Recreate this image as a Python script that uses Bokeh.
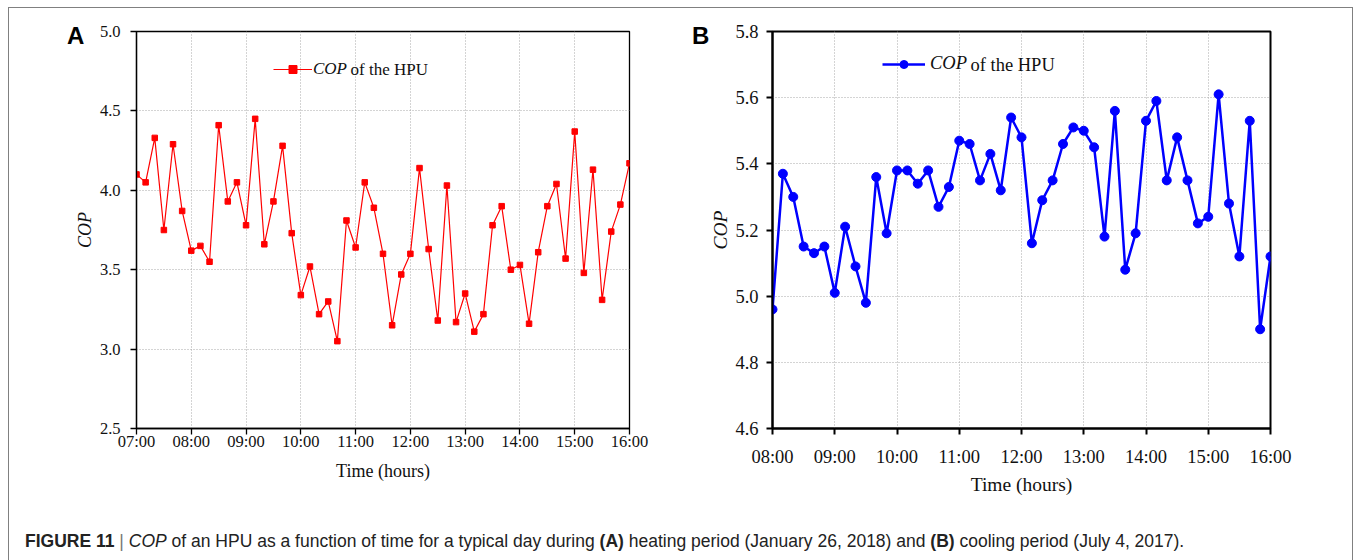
import pandas as pd
from bokeh.plotting import figure
from bokeh.models import (FixedTicker, Legend, LegendItem, Label, Div, Range1d,
                          NumeralTickFormatter)
from bokeh.layouts import row, column
from bokeh.embed import file_html
from bokeh.resources import INLINE

# ---------------- data ----------------
# Panel A: heating period (January 26, 2018), 10-minute samples 07:00-16:00
a_times = pd.date_range("2018-01-26 07:00", "2018-01-26 16:00", freq="10min")
a_cop = [4.10, 4.05, 4.33, 3.75, 4.29, 3.87,
         3.62, 3.65, 3.55, 4.41, 3.93, 4.05,
         3.78, 4.45, 3.66, 3.93, 4.28, 3.73,
         3.34, 3.52, 3.22, 3.30, 3.05, 3.81,
         3.64, 4.05, 3.89, 3.60, 3.15, 3.47,
         3.60, 4.14, 3.63, 3.18, 4.03, 3.17,
         3.35, 3.11, 3.22, 3.78, 3.90, 3.50,
         3.53, 3.16, 3.61, 3.90, 4.04, 3.57,
         4.37, 3.48, 4.13, 3.31, 3.74, 3.91,
         4.17]
a_xtick_labels = ["07:00", "08:00", "09:00", "10:00", "11:00",
                  "12:00", "13:00", "14:00", "15:00", "16:00"]
a_yticks = [2.5, 3.0, 3.5, 4.0, 4.5, 5.0]

# Panel B: cooling period (July 4, 2017), 10-minute samples 08:00-16:00
b_times = pd.date_range("2017-07-04 08:00", "2017-07-04 16:00", freq="10min")
b_cop = [4.96, 5.37, 5.30, 5.15, 5.13, 5.15,
         5.01, 5.21, 5.09, 4.98, 5.36, 5.19,
         5.38, 5.38, 5.34, 5.38, 5.27, 5.33,
         5.47, 5.46, 5.35, 5.43, 5.32, 5.54,
         5.48, 5.16, 5.29, 5.35, 5.46, 5.51,
         5.50, 5.45, 5.18, 5.56, 5.08, 5.19,
         5.53, 5.59, 5.35, 5.48, 5.35, 5.22,
         5.24, 5.61, 5.28, 5.12, 5.53, 4.90,
         5.12]
b_xtick_labels = ["08:00", "09:00", "10:00", "11:00", "12:00",
                  "13:00", "14:00", "15:00", "16:00"]
b_yticks = [4.6, 4.8, 5.0, 5.2, 5.4, 5.6, 5.8]

legend_label = "COP"
legend_rest = "of the HPU"
x_title = "Time (hours)"
y_title = "COP"
panel_letters = ["A", "B"]

SERIF = "Liberation Serif"


def hours(times):
    return [t.hour + t.minute / 60.0 for t in times]


def label_to_hour(s):
    h, m = s.split(":")
    return int(h) + int(m) / 60.0


def make_panel(times, cop, xlabels, yticks, color, marker, msize, lw,
               frame_lw, tick_fs, title_fs, legend_fs, W, mbl, mbr, mbb,
               leg_x, leg_y, glyph_w, leg_standoff, rest_x,
               xl_standoff, xt_standoff, yl_standoff, yt_standoff):
    xt = [label_to_hour(s) for s in xlabels]
    p = figure(width=W, height=500, output_backend="svg", toolbar_location=None,
               x_range=Range1d(xt[0], xt[-1]), y_range=Range1d(yticks[0], yticks[-1]),
               min_border_left=mbl, min_border_right=mbr, min_border_top=23,
               min_border_bottom=mbb, background_fill_color="white",
               border_fill_color="white", outline_line_color="black",
               outline_line_width=frame_lw)
    x = hours(times)
    ln = p.line(x, cop, line_color=color, line_width=lw)
    sc = p.scatter(x, cop, marker=marker, size=msize, fill_color=color,
                   line_color=color)

    for ax in (p.xaxis[0], p.yaxis[0]):
        ax.axis_line_color = "black"
        ax.axis_line_width = frame_lw
        ax.major_tick_line_color = "black"
        ax.major_tick_line_width = frame_lw
        ax.major_tick_out = 6
        ax.major_tick_in = 0
        ax.minor_tick_line_color = None
        ax.major_label_text_font = SERIF
        ax.major_label_text_font_size = tick_fs
        ax.major_label_text_color = "#111111"
        ax.axis_label_text_font = SERIF
        ax.axis_label_text_font_size = title_fs
        ax.axis_label_text_color = "#111111"

    p.xaxis.ticker = FixedTicker(ticks=xt)
    p.xaxis.major_label_overrides = {h: s for h, s in zip(xt, xlabels)}
    p.xaxis.axis_label = x_title
    p.xaxis.axis_label_text_font_style = "normal"
    p.xaxis.axis_label_standoff = xl_standoff
    p.xaxis.major_label_standoff = xt_standoff

    p.yaxis.ticker = FixedTicker(ticks=yticks)
    p.yaxis.formatter = NumeralTickFormatter(format="0.0")
    p.yaxis.axis_label = y_title
    p.yaxis.axis_label_text_font_style = "italic"
    p.yaxis.axis_label_standoff = yl_standoff
    p.yaxis.major_label_standoff = yt_standoff

    for g in (p.xgrid[0], p.ygrid[0]):
        g.grid_line_color = "#a8a8a8"
        g.grid_line_dash = "1 2"
        g.grid_line_width = 1

    leg = Legend(items=[LegendItem(label=legend_label, renderers=[ln, sc])],
                 location=(leg_x, leg_y), padding=0, margin=0, spacing=0,
                 glyph_width=glyph_w, glyph_height=20, label_height=20,
                 label_standoff=leg_standoff, border_line_color=None,
                 background_fill_alpha=0,
                 label_text_font=SERIF, label_text_font_style="italic",
                 label_text_font_size=legend_fs, label_text_color="#111111")
    p.add_layout(leg)
    p.add_layout(Label(x=rest_x, y=leg_y + 10, x_units="screen", y_units="screen",
                       text=legend_rest, text_font=SERIF, text_font_size=legend_fs,
                       text_baseline="middle", text_color="#111111"))
    return p


pA = make_panel(a_times, a_cop, a_xtick_labels, a_yticks, "#ff0000", "square",
                5.5, 1.2, 1.3, "16.5px", "18px", "17px",
                W=672, mbl=127, mbr=52, mbb=80,
                leg_x=137, leg_y=349, glyph_w=39, leg_standoff=1, rest_x=214,
                xl_standoff=7, xt_standoff=-3, yl_standoff=2, yt_standoff=10)
pB = make_panel(b_times, b_cop, b_xtick_labels, b_yticks, "#0000ff", "circle",
                9, 2.5, 2.0, "18.5px", "19.5px", "18.5px",
                W=671, mbl=91, mbr=82, mbb=78,
                leg_x=110, leg_y=354, glyph_w=43, leg_standoff=5, rest_x=198,
                xl_standoff=4, xt_standoff=12, yl_standoff=1, yt_standoff=8)

letter_style = ("position:absolute; font-family:'Liberation Sans', Arial, sans-serif; "
                "font-weight:bold; font-size:24px; line-height:28px; color:#000; "
                "z-index:10;")
caption = Div(
    text=('<div style="position:relative; width:1333px; height:44px;">'
          f'<span style="{letter_style} left:53px; top:-491px;">{panel_letters[0]}</span>'
          f'<span style="{letter_style} left:678px; top:-491px;">{panel_letters[1]}</span>'
          '<div style="position:absolute; left:11px; top:16px; white-space:nowrap; '
          'font-family:\'Liberation Sans\', Arial, sans-serif; font-size:17.5px; color:#222;">'
          '<b>FIGURE 11</b> <span style="color:#777">|</span> <i>COP</i> of an HPU as a '
          'function of time for a typical day during <b>(A)</b> heating period '
          '(January 26, 2018) and <b>(B)</b> cooling period (July 4, 2017).</div>'
          '</div>'),
    width=1333, height=44)

layout = column(row(pA, pB), caption, margin=(7, 0, 0, 8),
                styles={"border": "1px solid #808080"})

open("out.html", "w").write(file_html(layout, INLINE))
